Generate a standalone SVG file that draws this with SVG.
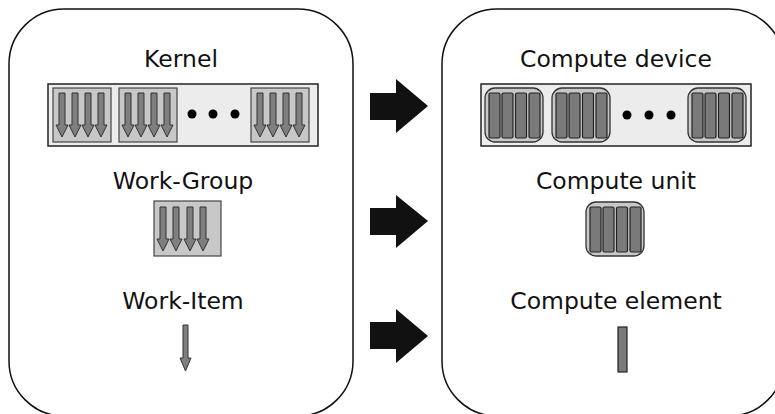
<svg xmlns="http://www.w3.org/2000/svg" width="775" height="414" viewBox="0 0 775 414">
  <defs>
    <style>
      .panel { fill: #ffffff; stroke: #111111; stroke-width: 1.5; }
      .label { font-family: "DejaVu Sans", sans-serif; font-size: 23.5px; fill: #111111; text-anchor: middle; }
      .bar { fill: #ececec; stroke: #222222; stroke-width: 1.5; }
      .grp { fill: #c8c8c8; stroke: #444444; stroke-width: 1.2; }
      .item { fill: #7f7f7f; stroke: #333333; stroke-width: 1; }
      .cu { fill: #c8c8c8; stroke: #333333; stroke-width: 1.3; }
      .pe { fill: #7a7a7a; stroke: #222222; stroke-width: 1.2; }
      .dot { fill: #000000; }
      .big-arrow { fill: #111111; }
    </style>
    <!-- one work-item: a narrow down arrow, origin at stem top-left -->
    <path id="wi" class="item" d="M0,0 H6 V32 H9 L3,44 L-3,32 H0 Z"/>
    <!-- one work-group: box with four work-items -->
    <g id="wg">
      <rect class="grp" x="0" y="0" width="58" height="54"/>
      <use href="#wi" x="6" y="5"/>
      <use href="#wi" x="19" y="5"/>
      <use href="#wi" x="32" y="5"/>
      <use href="#wi" x="45" y="5"/>
    </g>
    <!-- one compute unit: rounded box with four processing elements -->
    <g id="cunit">
      <rect class="cu" x="0" y="0" width="58" height="54" rx="10"/>
      <rect class="pe" x="4" y="5" width="11" height="45" rx="1.5"/>
      <rect class="pe" x="17" y="5" width="11" height="45" rx="1.5"/>
      <rect class="pe" x="30.5" y="5" width="11" height="45" rx="1.5"/>
      <rect class="pe" x="44" y="5" width="11" height="45" rx="1.5"/>
    </g>
  </defs>

  <rect width="775" height="414" fill="#ffffff"/>

  <!-- left panel: execution model -->
  <g id="software-panel">
    <rect class="panel" x="9" y="9" width="344" height="407" rx="55"/>
  </g>

  <g id="kernel">
    <text class="label" x="181" y="67">Kernel</text>
    <rect class="bar" x="48" y="84" width="270" height="62"/>
    <use href="#wg" x="53" y="88"/>
    <use href="#wg" x="119" y="88"/>
    <circle class="dot" cx="192" cy="114" r="4.5"/>
    <circle class="dot" cx="213" cy="114" r="4.5"/>
    <circle class="dot" cx="235" cy="114" r="4.5"/>
    <use href="#wg" x="251" y="88"/>
  </g>

  <g id="work-group">
    <text class="label" x="183" y="189">Work-Group</text>
    <rect class="grp" x="154" y="201" width="67" height="55"/>
    <use href="#wi" x="160" y="207"/>
    <use href="#wi" x="173" y="207"/>
    <use href="#wi" x="187" y="207"/>
    <use href="#wi" x="200" y="207"/>
  </g>

  <g id="work-item">
    <text class="label" x="183" y="309">Work-Item</text>
    <path class="item" d="M183,325 H188 V358 H191 L185.5,371 L180,358 H183 Z"/>
  </g>

  <!-- right panel: platform model -->
  <g id="hardware-panel">
    <rect class="panel" x="442" y="9" width="342" height="407" rx="55"/>
  </g>

  <g id="compute-device">
    <text class="label" x="616" y="67">Compute device</text>
    <rect class="bar" x="481" y="84" width="270" height="62"/>
    <use href="#cunit" x="485" y="88"/>
    <use href="#cunit" x="552" y="88"/>
    <circle class="dot" cx="627" cy="115" r="4.5"/>
    <circle class="dot" cx="649" cy="115" r="4.5"/>
    <circle class="dot" cx="671" cy="115" r="4.5"/>
    <use href="#cunit" x="688" y="88"/>
  </g>

  <g id="compute-unit">
    <text class="label" x="616" y="189">Compute unit</text>
    <use href="#cunit" x="586" y="202"/>
  </g>

  <g id="compute-element">
    <text class="label" x="616" y="309">Compute element</text>
    <rect class="pe" x="618" y="327" width="9" height="45"/>
  </g>

  <!-- mapping arrows -->
  <g id="connectors">
    <polygon class="big-arrow" points="370,93 396,93 396,79 428,106 396,133 396,120 370,120"/>
    <polygon class="big-arrow" points="370,208 396,208 396,195 428,221 396,248 396,235 370,235"/>
    <polygon class="big-arrow" points="370,322 396,322 396,309 428,336 396,363 396,349 370,349"/>
  </g>
</svg>
